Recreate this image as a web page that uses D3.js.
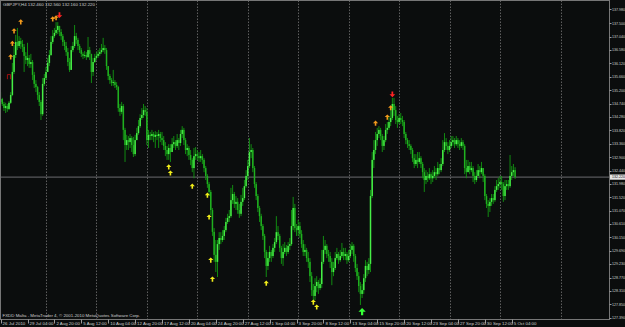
<!DOCTYPE html>
<html>
<head>
<meta charset="utf-8">
<script src="https://cdn.jsdelivr.net/npm/d3@7.9.0/dist/d3.min.js"></script>
<style>
  html, body { margin: 0; padding: 0; background: #0b0d0d; overflow: hidden; }
  svg { display: block; }
  text { font-family: "Liberation Sans", Arial, sans-serif; }
</style>
</head>
<body>
<div id="chart"></div>
<script>
const symbol = 'GBPJPY,H4';
const footer = 'FXDD Malta - MetaTrader 4, \u00a9 2001-2010 MetaQuotes Software Corp.';

// H4 bars, 26 Jul 2010 12:00 -> 5 Oct 2010; open of each bar = previous close
const firstOpen = 134.80;
const closes = [
  134.90,134.73,134.59,134.66,134.56,134.77,135.04,135.83,136.41,136.86,
  136.72,136.89,136.79,136.69,136.38,136.24,136.31,136.10,136.17,135.73,
  135.42,135.31,135.04,134.80,134.38,135.42,135.62,135.83,136.14,136.41,
  136.86,137.06,137.17,137.27,137.41,137.20,137.06,136.86,136.72,136.51,
  136.17,135.90,136.58,136.72,137.06,136.93,136.72,136.58,136.45,136.38,
  136.41,136.34,136.58,136.45,135.83,136.17,136.31,136.38,136.45,136.51,
  136.58,136.65,136.58,136.03,135.69,135.55,135.45,135.48,135.38,135.31,
  134.59,134.46,134.66,133.84,133.32,133.49,133.42,133.56,133.32,133.01,
  133.49,133.73,133.97,134.25,134.35,134.52,134.46,133.49,133.67,133.63,
  133.70,133.60,133.67,133.63,133.70,133.56,133.49,133.29,133.15,133.01,
  133.22,133.08,133.35,133.42,133.29,133.49,133.39,133.70,133.84,133.49,
  133.15,133.22,132.98,132.81,132.53,132.94,133.01,132.94,132.87,132.94,
  132.81,132.53,132.26,131.98,131.71,131.09,130.34,129.55,129.31,129.92,
  130.13,130.06,130.20,130.40,130.68,130.82,130.88,131.43,131.64,131.30,
  131.37,131.09,130.96,131.37,131.50,131.91,132.26,132.60,133.08,133.15,
  132.53,131.98,131.57,131.16,130.88,130.54,130.20,129.65,129.17,129.44,
  129.65,129.51,129.79,129.99,130.33,130.20,129.79,129.44,129.65,129.79,
  129.65,129.86,129.92,130.54,131.16,130.47,130.40,130.54,130.27,129.92,
  129.65,129.72,129.44,129.31,128.82,128.34,128.14,128.48,128.62,128.41,
  128.55,129.31,129.72,129.86,129.58,129.51,129.31,128.96,129.10,129.44,
  129.58,129.37,129.51,129.65,129.51,129.58,129.37,129.51,129.72,129.86,
  129.51,129.10,128.82,128.48,128.21,128.34,128.75,129.17,129.03,129.24,
  131.57,132.81,133.15,133.49,133.70,133.84,133.63,133.29,133.49,133.84,
  133.91,134.11,134.25,134.73,134.52,134.18,134.11,134.25,134.18,134.11,
  133.70,133.49,133.35,133.29,133.15,132.87,132.67,132.81,132.74,132.87,
  132.67,132.39,132.12,132.26,132.18,132.32,132.18,132.26,132.39,132.32,
  132.53,132.46,132.67,133.15,133.42,133.29,133.15,133.29,133.42,133.49,
  133.35,133.49,133.35,133.29,133.42,133.29,132.53,132.39,132.60,132.46,
  132.53,132.26,132.12,132.26,132.46,132.39,132.53,132.26,131.57,131.30,
  131.23,131.37,131.50,131.43,131.78,131.91,131.98,132.05,131.98,131.57,
  131.91,131.98,131.91,132.26,132.39,132.46,132.22
];
const highs = [
  135.14,134.94,134.80,134.77,134.73,134.83,135.14,136.14,136.75,137.10,
  137.34,137.06,137.00,136.93,136.79,136.51,136.83,136.41,136.45,136.24,
  135.83,135.55,135.35,135.14,134.87,135.62,135.76,136.00,136.31,136.58,
  137.06,137.27,137.34,137.54,137.54,137.41,137.30,137.13,136.93,136.86,
  136.65,136.31,136.72,136.86,137.44,137.17,137.00,136.79,136.65,136.51,
  136.55,136.51,137.03,136.69,136.31,136.31,136.45,136.51,136.58,136.65,
  136.79,137.00,136.75,136.65,136.03,135.76,135.62,135.90,135.55,135.48,
  135.35,134.73,134.80,134.73,133.91,133.67,133.63,133.70,133.63,133.60,
  133.67,133.91,134.18,134.38,134.59,134.73,134.66,134.59,133.84,133.77,
  133.84,133.77,133.80,133.77,133.84,133.77,133.77,133.63,133.42,133.29,
  133.35,133.35,133.56,133.63,133.49,133.70,133.56,133.84,133.97,133.91,
  133.56,133.35,133.29,133.15,132.87,133.22,133.25,133.15,133.08,133.15,
  133.01,132.87,132.60,132.32,132.05,131.78,131.16,130.47,130.06,130.06,
  130.33,130.33,130.40,130.54,130.82,130.96,131.09,131.85,131.95,131.71,
  131.57,131.50,131.30,131.61,131.85,132.12,132.46,132.81,133.56,133.35,
  133.22,132.60,132.05,131.64,131.23,130.96,130.61,130.27,129.72,129.65,
  129.86,129.72,129.92,130.13,130.88,130.54,130.27,129.86,129.92,129.99,
  129.89,129.99,130.13,131.09,131.54,131.30,130.61,130.75,130.68,130.40,
  130.06,129.92,129.79,129.65,129.44,128.96,128.55,128.75,128.82,128.69,
  128.75,129.72,130.20,130.06,129.92,129.72,129.65,129.44,129.31,129.65,
  129.79,129.65,129.72,129.96,129.79,129.79,129.65,129.72,129.92,129.99,
  129.92,129.58,129.24,128.96,128.62,128.55,128.89,129.37,129.31,129.44,
  131.78,133.08,133.49,133.77,133.91,133.97,133.91,133.70,133.63,134.04,
  134.11,134.32,134.52,134.94,134.94,134.66,134.32,134.38,134.42,134.32,
  134.18,133.77,133.56,133.49,133.35,133.22,133.01,133.01,133.08,133.08,
  132.94,132.74,132.53,132.46,132.39,132.53,132.39,132.46,132.60,132.53,
  132.74,132.67,132.87,133.49,133.73,133.56,133.42,133.49,133.63,133.63,
  133.56,133.63,133.56,133.49,133.56,133.49,133.35,132.81,132.81,132.74,
  132.74,132.60,132.39,132.46,132.67,132.60,132.74,132.53,132.32,131.64,
  131.43,131.50,131.64,131.64,131.91,132.12,132.19,132.26,132.26,132.05,
  132.12,132.12,132.12,132.98,132.60,132.67,132.56
];
const lows = [
  134.73,134.66,134.49,134.42,134.46,134.52,134.73,135.00,135.76,136.31,
  136.58,136.65,136.62,136.51,135.83,136.10,136.03,135.97,135.97,135.55,
  135.28,135.14,134.87,134.66,134.18,134.32,135.35,135.55,135.83,136.03,
  136.38,136.79,137.00,137.10,137.13,137.06,136.93,136.72,136.58,136.38,
  136.03,135.83,135.90,136.51,136.65,136.79,136.58,136.48,136.34,136.27,
  136.31,136.24,136.31,136.24,135.45,135.69,136.14,136.24,136.31,136.38,
  136.45,136.51,136.45,135.90,135.55,135.42,135.35,135.35,135.28,135.21,
  134.46,134.32,134.38,133.49,132.74,133.15,133.15,133.22,133.08,132.91,
  132.94,133.49,133.67,133.91,134.18,134.25,134.32,133.32,133.22,133.49,
  133.49,133.42,133.22,133.49,133.22,133.42,133.32,133.15,132.94,132.81,
  132.81,132.74,133.15,133.22,133.15,133.22,133.15,133.29,133.56,133.32,
  133.01,132.94,132.81,132.63,132.39,132.18,132.81,132.81,132.74,132.74,
  132.67,132.39,132.12,131.85,131.57,130.92,130.20,129.31,128.96,128.79,
  129.72,129.92,129.99,130.06,130.33,130.61,130.68,130.82,131.30,131.16,
  131.09,130.96,130.82,130.88,131.23,131.43,131.85,132.12,132.53,132.87,
  132.39,131.85,131.43,131.02,130.68,130.40,130.06,129.44,128.79,129.03,
  129.31,129.31,129.44,129.65,129.92,130.06,129.65,129.24,129.17,129.58,
  129.51,129.58,129.72,129.86,130.40,130.33,130.20,130.20,130.13,129.79,
  129.51,129.51,129.31,129.10,128.62,128.14,128.00,128.00,128.27,128.21,
  128.34,128.41,129.24,129.58,129.44,129.31,129.10,128.51,128.82,129.03,
  129.37,129.24,129.31,129.44,129.37,129.37,129.24,129.31,129.44,129.58,
  129.31,128.96,128.69,128.27,127.83,128.07,128.21,128.62,128.82,128.89,
  128.96,131.50,132.53,133.01,133.29,133.56,133.49,133.08,133.15,133.42,
  133.70,133.84,133.97,134.18,134.32,134.04,133.91,134.04,134.04,133.97,
  133.56,133.35,133.22,133.15,133.01,132.74,132.53,132.60,132.53,132.67,
  132.53,132.18,131.71,131.98,132.05,132.12,131.98,132.05,132.18,132.12,
  132.26,132.32,132.39,132.60,133.08,133.15,133.01,133.08,133.22,133.29,
  133.22,133.29,133.22,133.15,133.22,133.15,132.32,132.18,132.39,132.32,
  132.39,132.05,131.98,132.05,132.26,132.18,132.32,132.05,131.43,131.16,
  130.85,131.02,131.23,131.30,131.37,131.71,131.78,131.85,131.78,131.37,
  131.43,131.78,131.78,131.85,132.12,132.26,132.16
];

const priceTicks = ['137.980','137.500','137.040','136.580','136.120','135.660','135.200','134.740',
  '134.280','133.820','133.360','132.900','132.440','131.980','131.520','131.070','130.610','130.150',
  '129.690','129.230','128.770','128.310','127.850','127.390'];
const timeLabels = ['26 Jul 2010','29 Jul 04:00','2 Aug 20:00','5 Aug 12:00','10 Aug 04:00','12 Aug 20:00',
  '17 Aug 12:00','20 Aug 04:00','24 Aug 20:00','27 Aug 12:00','1 Sep 04:00','3 Sep 20:00','8 Sep 12:00',
  '13 Sep 04:00','15 Sep 20:00','20 Sep 12:00','23 Sep 04:00','27 Sep 20:00','30 Sep 12:00','5 Oct 04:00'];
const timeLabelBars = [0,16,32,48,64,80,96,112,128,144,160,176,192,208,224,240,256,272,288,304];
const weekStartBars = [27,57,87,117,147,177,207,237,267,297,333];

// signal arrows from the indicator
const orangeArrows = [
  { bar: 6, price: 136.35 }, { bar: 7, price: 136.81 }, { bar: 8, price: 137.24 }, { bar: 12, price: 137.55 },
  { bar: 31, price: 137.65 }, { bar: 33, price: 137.69 },
  { bar: 223, price: 134.07 }, { bar: 230, price: 134.28 }, { bar: 232, price: 134.60 }
];
const redArrows = [{ bar: 35, price: 137.78 }, { bar: 233, price: 135.06 }];
const yellowArrows = [
  { bar: 100, price: 132.57 }, { bar: 101, price: 132.36 }, { bar: 114, price: 131.91 },
  { bar: 123, price: 131.60 }, { bar: 124, price: 130.85 }, { bar: 125, price: 129.37 },
  { bar: 126, price: 128.72 }, { bar: 158, price: 128.58 }, { bar: 186, price: 127.93 },
  { bar: 188, price: 127.76 }
];
const greenArrows = [{ bar: 215, price: 127.60 }];
const redMarks = [{ bar: 5, price: 135.67 }];

function buildCandles() {
  return closes.map((c, i) => ({
    i,
    open: i === 0 ? firstOpen : closes[i - 1],
    high: highs[i],
    low: lows[i],
    close: c,
  }));
}

function renderChart(candles) {
  const width = 625;
  const height = 327;
  const plot = { left: 0.5, top: 0.5, right: 609.5, bottom: 319.5 };
  const fmt = d3.format('.3f');

  const svg = d3.select('#chart')
    .append('svg')
    .attr('width', width)
    .attr('height', height);

  svg.append('rect')
    .attr('width', width).attr('height', height)
    .attr('fill', '#0b0d0d');

  const x = d3.scaleLinear()
    .domain([0, 333])
    .range([0.6, 560.5]);

  const y = d3.scaleLinear()
    .domain([127.39, 137.98])
    .range([317.8, 9.3]);

  // weekly vertical grid
  svg.append('g')
    .selectAll('line')
    .data(weekStartBars)
    .join('line')
    .attr('x1', (d) => Math.round(x(d)) + 0.5)
    .attr('x2', (d) => Math.round(x(d)) + 0.5)
    .attr('y1', plot.top)
    .attr('y2', plot.bottom)
    .attr('stroke', '#5e5e5e')
    .attr('stroke-width', 1)
    .attr('stroke-dasharray', '1.5,1.5');

  // bid line
  const last = candles[candles.length - 1];
  svg.append('line')
    .attr('x1', plot.left).attr('x2', plot.right)
    .attr('y1', y(last.close)).attr('y2', y(last.close))
    .attr('stroke', '#6c6c70')
    .attr('stroke-width', 1);

  // candles
  const bars = svg.append('g');
  bars.selectAll('line')
    .data(candles)
    .join('line')
    .attr('x1', (d) => x(d.i))
    .attr('x2', (d) => x(d.i))
    .attr('y1', (d) => y(Math.max(d.high, d.open, d.close)))
    .attr('y2', (d) => y(Math.min(d.low, d.open, d.close)))
    .attr('stroke', '#129812')
    .attr('stroke-width', 0.9);

  bars.selectAll('rect')
    .data(candles)
    .join('rect')
    .attr('x', (d) => x(d.i) - 0.75)
    .attr('width', 1.5)
    .attr('y', (d) => y(Math.max(d.open, d.close)))
    .attr('height', (d) => Math.max(0.8, Math.abs(y(d.open) - y(d.close))))
    .attr('fill', (d) => (d.close >= d.open ? '#46ee46' : '#20b020'));

  // arrows
  const upArrow = 'M0,-2.6L2.6,0L0.8,0L0.8,2.6L-0.8,2.6L-0.8,0L-2.6,0Z';
  const downArrow = 'M0,2.6L2.6,0L0.8,0L0.8,-2.6L-0.8,-2.6L-0.8,0L-2.6,0Z';

  function drawArrows(list, path, color, scale) {
    svg.append('g')
      .selectAll('path')
      .data(list)
      .join('path')
      .attr('d', path)
      .attr('transform', (d) => `translate(${x(d.bar)},${y(d.price)}) scale(${scale})`)
      .attr('fill', color);
  }
  drawArrows(orangeArrows, upArrow, '#f39a1c', 1);
  drawArrows(yellowArrows, upArrow, '#f2ee1a', 1);
  drawArrows(redArrows, downArrow, '#ff2424', 1.1);
  drawArrows(greenArrows, upArrow, '#36ff36', 1.4);

  svg.append('g')
    .selectAll('path')
    .data(redMarks)
    .join('path')
    .attr('d', 'M-1.6,2.6V-2H1.6V2.6')
    .attr('transform', (d) => `translate(${x(d.bar)},${y(d.price)})`)
    .attr('fill', 'none')
    .attr('stroke', '#c41010')
    .attr('stroke-width', 0.8);

  // frame and price scale
  svg.append('rect')
    .attr('x', plot.left).attr('y', plot.top)
    .attr('width', plot.right - plot.left)
    .attr('height', plot.bottom - plot.top)
    .attr('fill', 'none')
    .attr('stroke', '#767676')
    .attr('stroke-width', 1);

  const yAxis = svg.append('g');
  yAxis.selectAll('line')
    .data(priceTicks)
    .join('line')
    .attr('x1', plot.right).attr('x2', plot.right + 2)
    .attr('y1', (d) => Math.round(y(+d)) + 0.5)
    .attr('y2', (d) => Math.round(y(+d)) + 0.5)
    .attr('stroke', '#9a9a9a');
  yAxis.selectAll('text')
    .data(priceTicks)
    .join('text')
    .attr('x', plot.right + 2.5)
    .attr('y', (d) => y(+d) + 1.3)
    .attr('font-size', 3.6)
    .attr('fill', '#cfcfcf')
    .text((d) => d);

  // current price box
  const py = y(last.close);
  svg.append('rect')
    .attr('x', plot.right + 0.5).attr('y', py - 2.6)
    .attr('width', width - plot.right).attr('height', 5.2)
    .attr('fill', '#e4e4e4');
  svg.append('text')
    .attr('x', plot.right + 2.5).attr('y', py + 1.3)
    .attr('font-size', 3.6)
    .attr('fill', '#111')
    .text(fmt(last.close));

  // time scale
  const xAxis = svg.append('g');
  xAxis.selectAll('line')
    .data(timeLabelBars)
    .join('line')
    .attr('x1', (d) => Math.round(x(d)) + 0.5)
    .attr('x2', (d) => Math.round(x(d)) + 0.5)
    .attr('y1', plot.bottom).attr('y2', plot.bottom + 4)
    .attr('stroke', '#9a9a9a');
  xAxis.selectAll('text')
    .data(timeLabelBars)
    .join('text')
    .attr('x', (d) => x(d) + 2)
    .attr('y', plot.bottom + 5.2)
    .attr('font-size', 4.4)
    .attr('fill', '#cfcfcf')
    .text((d, i) => timeLabels[i]);

  // header and footer texts
  svg.append('text')
    .attr('x', 3).attr('y', 6.4)
    .attr('font-size', 4.4)
    .attr('fill', '#cfcfcf')
    .text(`${symbol}  ${fmt(last.open)} ${fmt(last.high)} ${fmt(last.low)} ${fmt(last.close)}`);

  svg.append('text')
    .attr('x', 2.5).attr('y', plot.bottom - 2.5)
    .attr('font-size', 4.4)
    .attr('fill', '#cfcfcf')
    .text(footer);
}

const candles = buildCandles();
renderChart(candles);
</script>
</body>
</html>
